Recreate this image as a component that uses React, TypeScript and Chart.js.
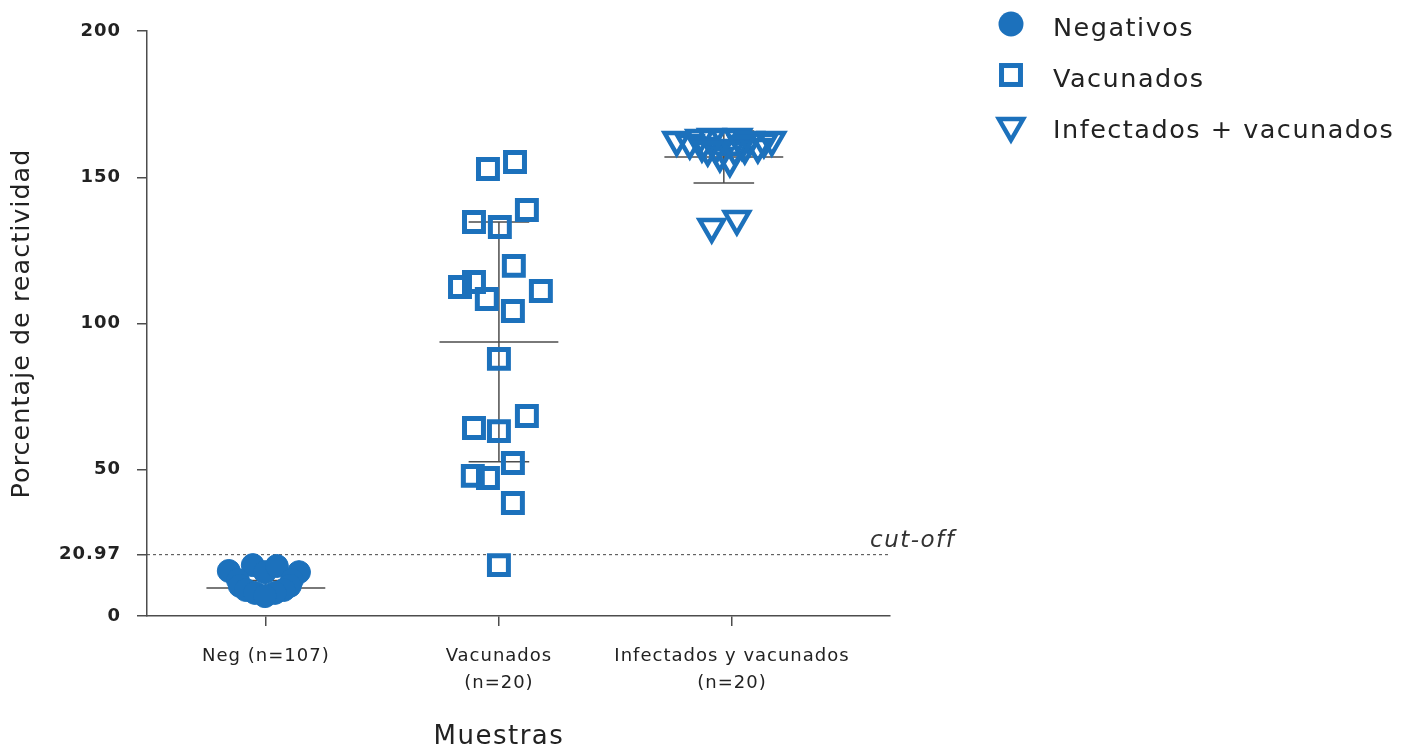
import React, { useEffect, useRef } from "react";
import { Chart, registerables } from "chart.js";

Chart.register(...registerables);

// ---- data ----
const CATEGORY_LABELS: string[][] = [
  ["Neg (n=107)"],
  ["Vacunados", "(n=20)"],
  ["Infectados y vacunados", "(n=20)"],
];
const CATEGORY_TICKS = [1, 2, 3];
const GROUP_X = [1, 2, 2.965];
const Y_TICKS = [0, 20.97, 50, 100, 150, 200];
const CUTOFF = 20.97;
const SERIES_NAMES = ["Negativos", "Vacunados", "Infectados + vacunados"];
const X_TITLE = "Muestras";
const Y_TITLE = "Porcentaje de reactividad";

const NEG_VALUES = [15.4, 17.4, 15.0, 17.1, 15.0, 12.3, 12.3, 10.3, 10.3, 8.9, 8.9, 7.9, 7.9, 6.8];
const NEG_JITTER = [-0.159, -0.056, -0.004, 0.047, 0.142, -0.12, 0.112, -0.112, 0.103, -0.086, 0.077, -0.047, 0.039, -0.004];

const VAC_VALUES = [152.8, 155.2, 138.8, 134.7, 133.0, 119.7, 114.2, 112.5, 108.4, 111.1, 104.3, 87.9, 64.3, 68.4, 63.2, 52.3, 47.9, 47.2, 38.6, 17.4];
const VAC_JITTER = [-0.047, 0.069, 0.12, -0.107, 0.004, 0.064, -0.107, -0.167, -0.052, 0.18, 0.06, 0, -0.107, 0.12, 0, 0.06, -0.112, -0.047, 0.06, 0];

const INF_VALUES = [162.7, 161.7, 160.7, 163.8, 157.3, 155.6, 163.4, 163.8, 160.0, 160.3, 162.7, 162.1, 163.4, 160.0, 159.3, 162.7, 159.3, 161.4, 133.0, 135.7];
const INF_JITTER = [-0.202, -0.146, -0.094, -0.052, -0.017, 0.026, 0.004, 0.06, 0.09, 0.146, 0.206, 0.172, -0.103, -0.034, 0.047, 0.112, -0.069, 0.077, -0.052, 0.056];

const MEANS = [9.6, 93.7, 156.9];
const SDS = [2.5, 41.0, 8.9];

// ---- styles ----
const BLUE = "#1c71bc";
const AXIS = "#4d4d4d";
const TEXT = "#222222";
const FONT = '"DejaVu Sans", sans-serif';
const MEAN_HALF = 0.255;
const CAP_HALF = 0.13;

const STYLES = [
  { pointStyle: "circle", radius: 11.5, borderWidth: 1, fill: BLUE, rotation: 0 },
  { pointStyle: "rect", radius: 13.4, borderWidth: 5, fill: "rgba(0,0,0,0)", rotation: 0 },
  { pointStyle: "triangle", radius: 14, borderWidth: 4.5, fill: "rgba(0,0,0,0)", rotation: 180 },
];

function drawMarker(ctx: CanvasRenderingContext2D, idx: number, x: number, y: number) {
  ctx.save();
  ctx.strokeStyle = BLUE;
  ctx.fillStyle = BLUE;
  if (idx === 0) {
    ctx.beginPath();
    ctx.arc(x, y, 12.5, 0, Math.PI * 2);
    ctx.fill();
  } else if (idx === 1) {
    ctx.lineWidth = 5;
    const s = 13.4 * Math.SQRT1_2;
    ctx.strokeRect(x - s, y - s, 2 * s, 2 * s);
  } else {
    ctx.lineWidth = 4.5;
    const r = 14;
    ctx.beginPath();
    ctx.moveTo(x, y + r);
    ctx.lineTo(x - r * Math.sin(Math.PI / 3), y - r / 2);
    ctx.lineTo(x + r * Math.sin(Math.PI / 3), y - r / 2);
    ctx.closePath();
    ctx.stroke();
  }
  ctx.restore();
}

const decorPlugin = {
  id: "decor",
  beforeDraw(chart: any) {
    (chart.ctx as any).letterSpacing = "1px";
  },
  beforeDatasetsDraw(chart: any) {
    const { ctx, chartArea, scales } = chart;
    const y = scales.y.getPixelForValue(CUTOFF);
    ctx.save();
    ctx.strokeStyle = "#444";
    ctx.lineWidth = 1;
    ctx.setLineDash([3, 3]);
    ctx.beginPath();
    ctx.moveTo(chartArea.left, y);
    ctx.lineTo(chartArea.right, y);
    ctx.stroke();
    ctx.restore();
  },
  afterDraw(chart: any) {
    const { ctx, chartArea, scales } = chart;
    ctx.save();
    (ctx as any).letterSpacing = "1.5px";
    ctx.fillStyle = "#333";
    ctx.font = `italic 23px ${FONT}`;
    ctx.textAlign = "left";
    ctx.textBaseline = "alphabetic";
    ctx.fillText("cut-off", chartArea.right - 20, scales.y.getPixelForValue(CUTOFF) - 8);

    // x-axis title, centred on the category ticks
    ctx.fillStyle = TEXT;
    ctx.font = `26px ${FONT}`;
    ctx.textAlign = "center";
    const xs = scales.x;
    const cx = (xs.getPixelForValue(CATEGORY_TICKS[0]) + xs.getPixelForValue(CATEGORY_TICKS[CATEGORY_TICKS.length - 1])) / 2;
    ctx.fillText(X_TITLE, cx, 744);

    // legend
    ctx.textAlign = "left";
    ctx.font = `25.5px ${FONT}`;
    SERIES_NAMES.forEach((name, i) => {
      const my = 24 + i * 51;
      drawMarker(ctx, i, 1011, my);
      ctx.fillText(name, 1053, my + 11.5);
    });
    ctx.restore();
  },
};

export default function App() {
  const ref = useRef<HTMLCanvasElement>(null);

  useEffect(() => {
    const canvas = ref.current;
    if (!canvas) return;

    const valueSets = [NEG_VALUES, VAC_VALUES, INF_VALUES];
    const jitterSets = [NEG_JITTER, VAC_JITTER, INF_JITTER];

    const pointDatasets = valueSets.map((vals, g) => ({
      label: SERIES_NAMES[g],
      data: vals.map((v, i) => ({ x: GROUP_X[g] + jitterSets[g][i], y: v })),
      pointStyle: STYLES[g].pointStyle,
      pointRadius: STYLES[g].radius,
      pointRotation: STYLES[g].rotation,
      pointBorderWidth: STYLES[g].borderWidth,
      pointBackgroundColor: STYLES[g].fill,
      pointBorderColor: BLUE,
      backgroundColor: STYLES[g].fill,
      borderColor: BLUE,
      showLine: false,
      order: 0,
    }));

    const seg = (pts: { x: number; y: number }[]) => ({
      label: "",
      data: pts,
      showLine: true,
      pointRadius: 0,
      borderColor: AXIS,
      borderWidth: 1.5,
      order: 2,
    });

    const lineDatasets: any[] = [];
    MEANS.forEach((m, g) => {
      const c = GROUP_X[g];
      const s = SDS[g];
      lineDatasets.push(seg([{ x: c - MEAN_HALF, y: m }, { x: c + MEAN_HALF, y: m }]));
      lineDatasets.push(seg([{ x: c, y: m - s }, { x: c, y: m + s }]));
      lineDatasets.push(seg([{ x: c - CAP_HALF, y: m + s }, { x: c + CAP_HALF, y: m + s }]));
      lineDatasets.push(seg([{ x: c - CAP_HALF, y: m - s }, { x: c + CAP_HALF, y: m - s }]));
    });

    const chart = new Chart(canvas, {
      type: "scatter",
      data: { datasets: [...pointDatasets, ...lineDatasets] as any },
      plugins: [decorPlugin],
      options: {
        responsive: false,
        animation: false,
        events: [],
        layout: { padding: { top: 31, right: 521, bottom: 0, left: 0 } },
        plugins: {
          legend: { display: false },
          tooltip: { enabled: false },
        },
        scales: {
          x: {
            type: "linear",
            min: 0.49,
            max: 3.678,
            afterFit: (s: any) => {
              s.height = 133;
            },
            afterBuildTicks: (s: any) => {
              s.ticks = CATEGORY_TICKS.map((v) => ({ value: v }));
            },
            ticks: {
              autoSkip: false,
              maxRotation: 0,
              padding: 17,
              color: TEXT,
              font: { family: FONT, size: 18, lineHeight: 1.5 },
              callback: (_v: any, i: number) => CATEGORY_LABELS[i],
            },
            grid: {
              drawOnChartArea: false,
              drawTicks: true,
              tickLength: 10,
              color: AXIS,
              lineWidth: 1.5,
            },
            border: { display: true, color: AXIS, width: 1.5 },
            title: { display: false, text: X_TITLE },
          },
          y: {
            type: "linear",
            min: 0,
            max: 200,
            afterFit: (s: any) => {
              s.width = 147;
            },
            afterBuildTicks: (s: any) => {
              s.ticks = Y_TICKS.map((v) => ({ value: v }));
            },
            ticks: {
              padding: 16,
              color: TEXT,
              font: { family: FONT, size: 18, weight: "bold" },
              callback: (v: any) => String(v),
            },
            grid: {
              drawOnChartArea: false,
              drawTicks: true,
              tickLength: 10,
              color: AXIS,
              lineWidth: 1.5,
            },
            border: { display: true, color: AXIS, width: 1.5 },
            title: {
              display: true,
              text: Y_TITLE,
              color: TEXT,
              font: { family: FONT, size: 25.5, lineHeight: 1.2 },
              padding: { top: 7, bottom: 0 },
            },
          },
        },
      } as any,
    });

    return () => chart.destroy();
  }, []);

  return (
    <div style={{ position: "fixed", left: 0, top: 0, width: 1411, height: 749, background: "#fff" }}>
      <canvas ref={ref} width={1411} height={749} style={{ display: "block" }} />
    </div>
  );
}
